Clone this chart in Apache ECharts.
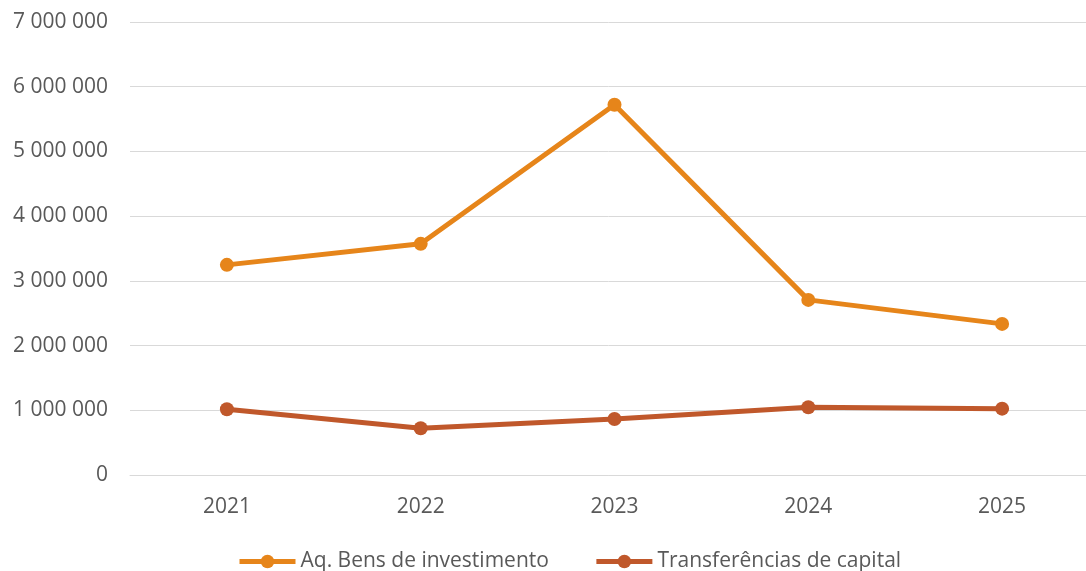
<!DOCTYPE html>
<html>
<head>
<meta charset="utf-8">
<script src="https://cdn.jsdelivr.net/npm/echarts@6/dist/echarts.min.js"></script>
<style>
  html, body { margin: 0; padding: 0; background: #fff; }
  #chart { width: 1086px; height: 571px; }
</style>
</head>
<body>
<div id="chart"></div>
<script>
// dados
const years = ['2021', '2022', '2023', '2024', '2025']
const aqBens = [3247000, 3572000, 5721000, 2706000, 2335000]
const transferencias = [1016000, 722000, 866000, 1047000, 1025000]
const seriesNames = ['Aq. Bens de investimento', 'Transferências de capital']
const seriesColors = ['#E6851A', '#C0582B']

const FONT = 'Open Sans'

// separador de milhares com espaço
function fmt(v) {
  return String(v).replace(/\B(?=(\d{3})+(?!\d))/g, ' ')
}

const chart = echarts.init(document.getElementById('chart'), null, { renderer: 'canvas' })

function lineSeries(name, data, color) {
  return {
    name: name,
    type: 'line',
    data: data,
    symbol: 'circle',
    symbolSize: 14,
    lineStyle: { width: 5, color: color },
    itemStyle: { color: color },
    emphasis: { disabled: true }
  }
}

chart.setOption({
  animation: false,
  backgroundColor: '#fff',
  textStyle: { fontFamily: FONT },
  // a área do gráfico ultrapassa a margem direita, como no original
  grid: { left: 130, width: 969, top: 22, height: 453, outerBoundsMode: 'none', containLabel: false },
  legend: {
    top: 546,
    left: 232,
    itemWidth: 56,
    itemHeight: 17,
    itemGap: 45,
    lineStyle: { width: 5 },
    textStyle: { fontFamily: FONT, fontSize: 21, color: '#595959' },
    data: seriesNames
  },
  xAxis: {
    type: 'category',
    data: years,
    boundaryGap: true,
    axisLine: { show: true, lineStyle: { color: '#D9D9D9', width: 1 } },
    axisTick: { show: false },
    axisLabel: { fontFamily: FONT, fontSize: 21, color: '#595959', margin: 22 }
  },
  yAxis: {
    type: 'value',
    min: 0,
    max: 7000000,
    interval: 1000000,
    axisLine: { show: false },
    axisTick: { show: false },
    splitLine: { lineStyle: { color: '#D9D9D9', width: 1 } },
    axisLabel: {
      fontFamily: FONT, fontSize: 21, color: '#595959', margin: 22,
      formatter: fmt
    }
  },
  series: [
    lineSeries(seriesNames[0], aqBens, seriesColors[0]),
    lineSeries(seriesNames[1], transferencias, seriesColors[1])
  ]
})
</script>
</body>
</html>
